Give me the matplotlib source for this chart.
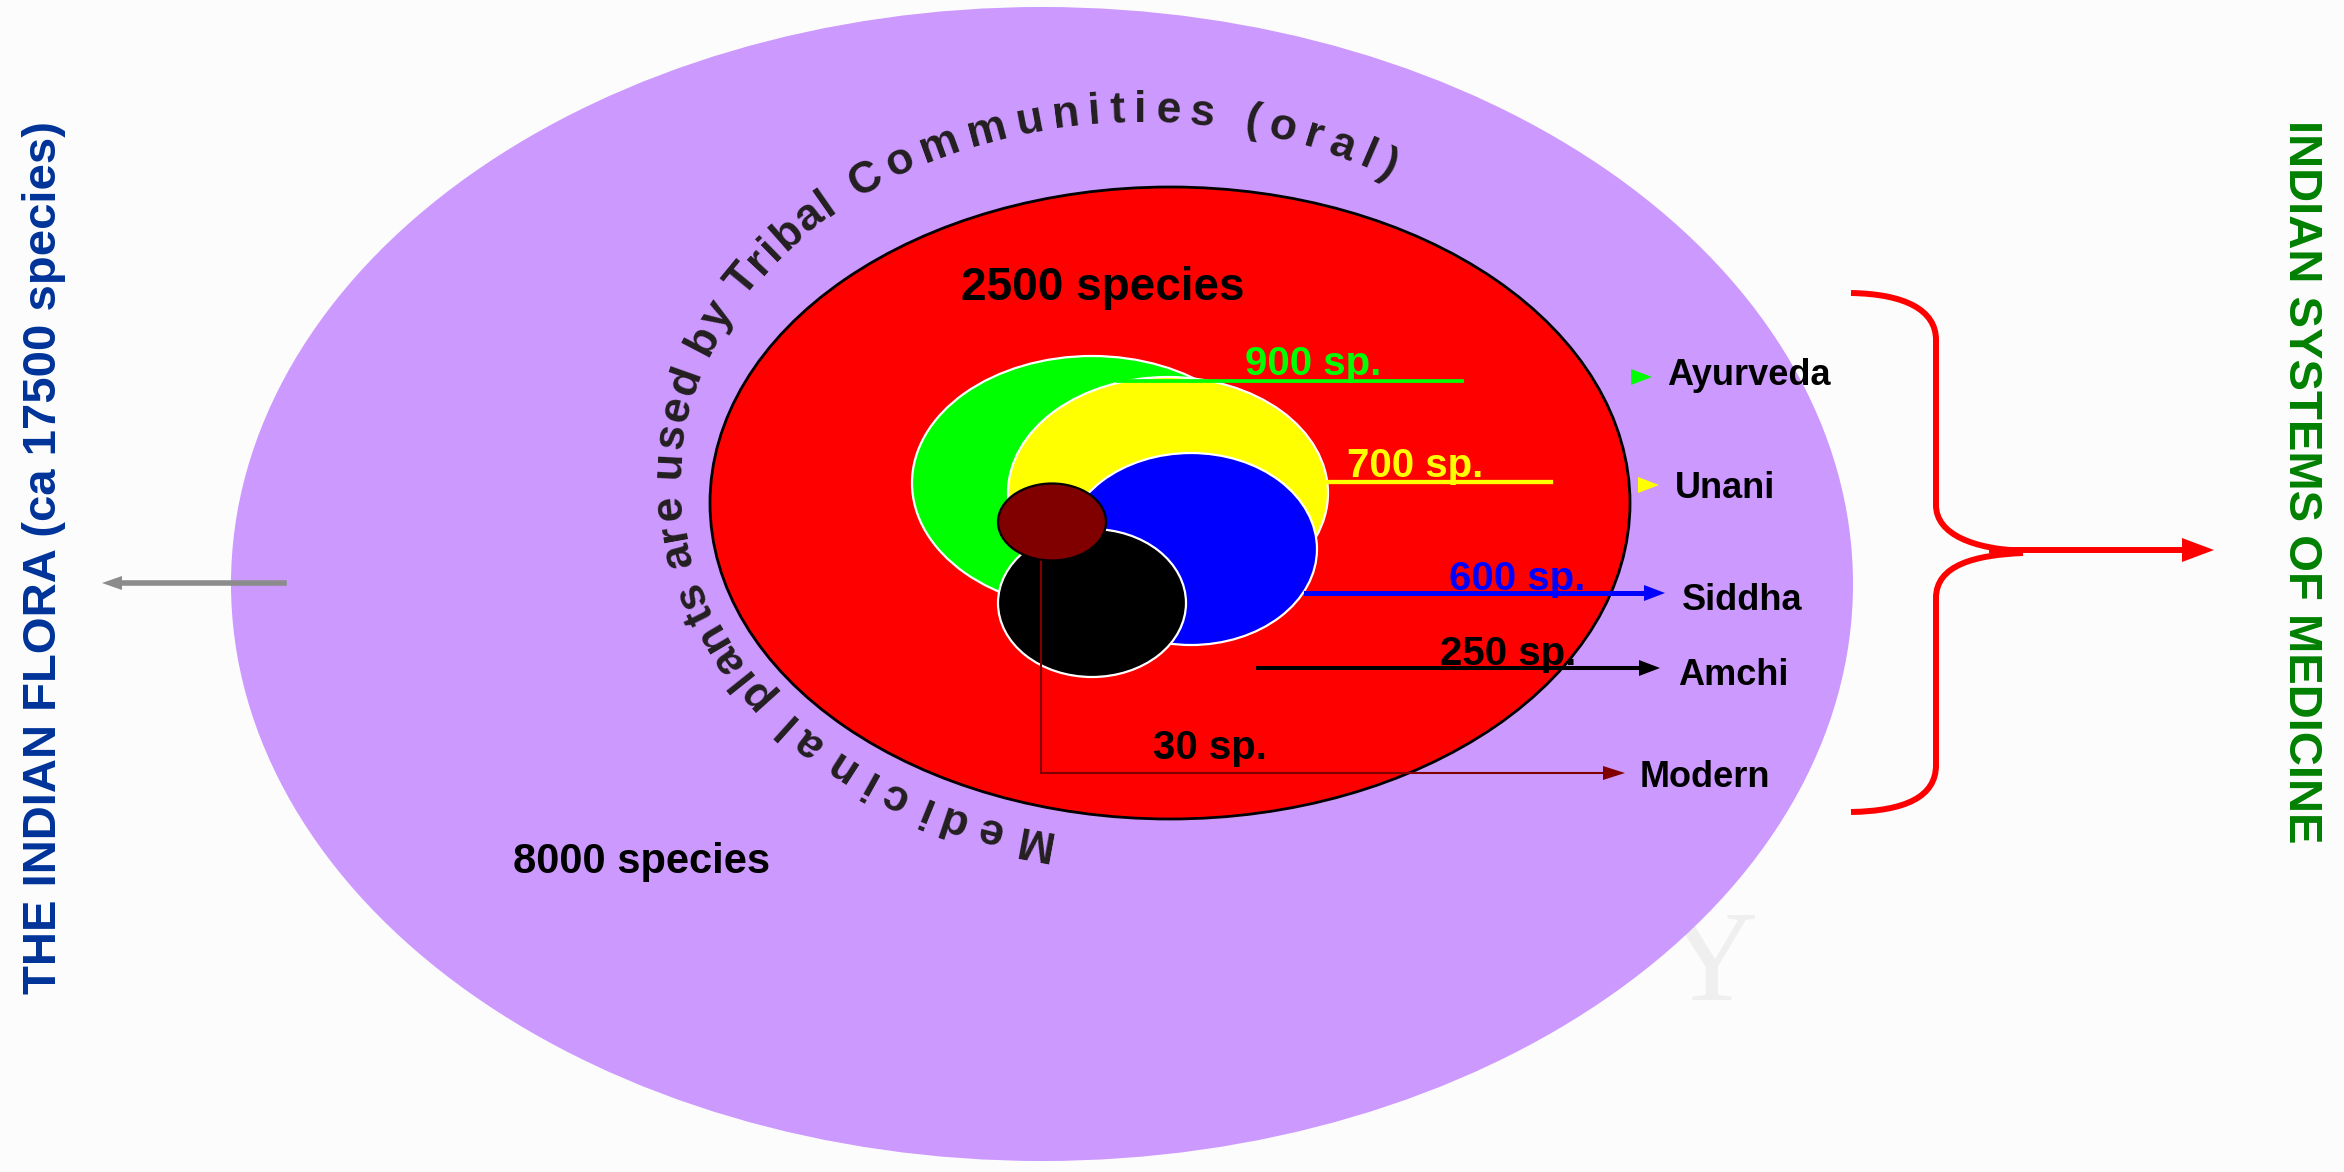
import numpy as np
import matplotlib.pyplot as plt
from matplotlib.patches import Ellipse, Polygon, PathPatch
from matplotlib.path import Path
from matplotlib.font_manager import FontProperties

plt.rcParams['font.family'] = ['Liberation Sans', 'DejaVu Sans']

# DATA
# ====
systems = ["Ayurveda", "Unani", "Siddha", "Amchi", "Modern"]
system_species = [900, 700, 600, 250, 30]
system_colors = ["#00ff00", "#ffff00", "#0000ff", "#000000", "#800000"]
label_colors = ["#00ff00", "#ffff00", "#0000ff", "#000000", "#000000"]
medicinal_species = 2500
tribal_species = 8000
flora_species = 17500
arc_words = ["Medicinal", "plants are used by Tribal", "Communities (oral)"]

# LAYOUT (pixel coordinates, y downwards)
# =======================================
W, H = 2344, 1172
sys_ellipses = [(1092, 483, 360, 254), (1168, 493, 320, 232), (1191, 549, 252, 192),
                (1092, 603, 188, 148), (1052, 522, 108, 77)]
line_y = [381, 482, 593, 668, 773]
line_x0 = [1118, 1328, 1306, 1258, 1041]
line_x1 = [1462, 1551, 1665, 1660, 1625]
line_w = [2.7, 3.1, 3.6, 2.9, 1.5]
has_head = [False, False, True, True, True]
num_x = [1245, 1347, 1449, 1440, 1153]
num_base = [375, 477, 590, 665, 759]
name_x = [1667, 1675, 1682, 1678, 1640]
name_base = [385, 498, 610, 685, 787]
marker_x = [1641, 1648, None, None, None]
marker_y = [377, 485, None, None, None]
arc_spans = [(101, 140), (143, 229), (232, 303)]  # degrees along the text ellipse

fig = plt.figure(figsize=(W / 100, H / 100), dpi=100, facecolor="#fcfcfc")
ax = fig.add_axes([0, 0, 1, 1])
ax.set_xlim(0, W)
ax.set_ylim(H, 0)
ax.axis("off")


def head(tip_x, y, length, half, color, z, left=False):
    base = tip_x + length if left else tip_x - length
    ax.add_patch(Polygon([(tip_x, y), (base, y - half), (base, y + half)],
                         closed=True, fc=color, ec="none", zorder=z))


# watermark letter behind everything
ax.text(1711, 1000, "Y", family="Liberation Serif", fontsize=93, color="#efefef",
        ha="center", va="baseline", zorder=0)

# outer (all flora used by tribal communities) and medicinal ellipse
ax.add_patch(Ellipse((1042, 584), 1622, 1154, fc="#cc99ff", ec="none", zorder=1))
ax.add_patch(Ellipse((1170, 503), 920, 632, fc="#ff0000", ec="black", lw=2, zorder=2))

# systems of medicine
for i, (cx, cy, w, h) in enumerate(sys_ellipses):
    ec = "black" if i == 4 else "white"
    ax.add_patch(Ellipse((cx, cy), w, h, fc=system_colors[i], ec=ec, lw=1.6, zorder=3 + i * 2))

for i, name in enumerate(systems):
    y = line_y[i]
    col = system_colors[i]
    x1 = line_x1[i]
    if i == 4:
        ax.plot([line_x0[i], line_x0[i], x1 - 20], [560, y, y], color=col, lw=line_w[i],
                solid_joinstyle="miter", zorder=10)
        head(x1, y, 22, 7, col, 10)
    elif has_head[i]:
        ax.plot([line_x0[i], x1 - 18], [y, y], color=col, lw=line_w[i], zorder=12)
        head(x1, y, 21, 8, col, 12)
    else:
        ax.plot([line_x0[i], x1], [y, y], color=col, lw=line_w[i], zorder=12)
    ax.text(num_x[i], num_base[i], f"{system_species[i]} sp.", color=label_colors[i],
            fontsize=29, fontweight="bold", ha="left", va="baseline", zorder=13)
    ax.text(name_x[i], name_base[i], name, color="black", fontsize=26,
            fontweight="bold", ha="left", va="baseline", zorder=13)
    if marker_x[i] is not None:
        ax.add_patch(Polygon([(marker_x[i] + 11, marker_y[i]),
                              (marker_x[i] - 10, marker_y[i] - 8),
                              (marker_x[i] - 10, marker_y[i] + 8)],
                             closed=True, fc=col, ec="none", zorder=13))

ax.text(961, 300, f"{medicinal_species} species", fontsize=33, fontweight="bold",
        color="black", ha="left", va="baseline", zorder=13)
ax.text(513, 873, f"{tribal_species} species", fontsize=30, fontweight="bold",
        color="black", ha="left", va="baseline", zorder=13)

# curved text along an ellipse around the medicinal plants
fp = FontProperties(family="Liberation Sans", weight="bold", size=32)
renderer = fig.canvas.get_renderer()


def adv(s):
    return renderer.get_text_width_height_descent(s, fp, ismath=False)[0]


space_w = adv("a a") - adv("aa")
ecx, ecy, ea, eb = 1140, 480, 460, 358
tt = np.radians(np.linspace(80, 340, 4000))
ds = np.sqrt((ea * np.sin(tt)) ** 2 + (eb * np.cos(tt)) ** 2)
ss = np.concatenate([[0], np.cumsum(0.5 * (ds[1:] + ds[:-1]) * np.diff(tt))])

for word, (a0, a1) in zip(arc_words, arc_spans):
    widths = [space_w if ch == " " else adv(ch) for ch in word]
    s0 = np.interp(np.radians(a0), tt, ss)
    s1 = np.interp(np.radians(a1), tt, ss)
    track = (s1 - s0 - sum(widths)) / (len(word) - 1)
    s_pos = s0
    for ch, w in zip(word, widths):
        sc = s_pos + w / 2
        s_pos += w + track
        if ch == " ":
            continue
        t = np.interp(sc, ss, tt)
        px, py = ecx + ea * np.cos(t), ecy + eb * np.sin(t)
        nx, ny = np.cos(t) / ea, np.sin(t) / eb
        rot = np.degrees(np.arctan2(-nx, -ny))
        ax.text(px, py, ch, fontproperties=fp, color="#231f20", rotation=rot,
                rotation_mode="anchor", ha="center", va="baseline", zorder=2.5)

# left: the Indian flora
ax.plot([284, 120], [583, 583], color="#8c8c8c", lw=4, zorder=3)
head(102, 583, 20, 7, "#8c8c8c", 3, left=True)
ax.text(44, 557, f"THE INDIAN FLORA (ca {flora_species} species)", rotation=90,
        fontsize=34, fontweight="bold", color="#003399", ha="center", va="center")

# right: brace and arrow to Indian systems of medicine
verts = [(1851, 293), (1905, 294), (1936, 310), (1936, 340), (1936, 505),
         (1936, 535), (1975, 549), (2023, 551),
         (2023, 553), (1975, 555), (1936, 565), (1936, 598), (1936, 765),
         (1936, 797), (1905, 811), (1851, 812)]
codes = [Path.MOVETO, Path.CURVE4, Path.CURVE4, Path.CURVE4, Path.LINETO,
         Path.CURVE4, Path.CURVE4, Path.CURVE4,
         Path.MOVETO, Path.CURVE4, Path.CURVE4, Path.CURVE4, Path.LINETO,
         Path.CURVE4, Path.CURVE4, Path.CURVE4]
ax.add_patch(PathPatch(Path(verts, codes), fc="none", ec="#ff0000", lw=4.3, zorder=5))
ax.plot([1992, 2190], [550, 550], color="#ff0000", lw=4.3, zorder=5)
head(2214, 550, 32, 12, "#ff0000", 5)
ax.text(2301, 482, "INDIAN SYSTEMS OF MEDICINE", rotation=-90, fontsize=34,
        fontweight="bold", color="#008000", ha="center", va="center")

fig.savefig("out.png", dpi=100, facecolor=fig.get_facecolor())
